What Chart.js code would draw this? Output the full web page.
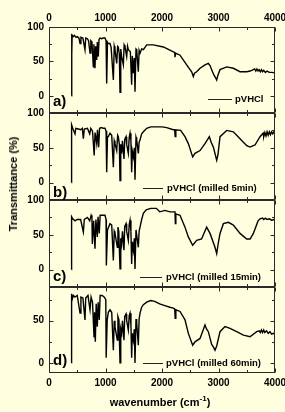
<!DOCTYPE html>
<html>
<head>
<meta charset="utf-8">
<script src="https://cdn.jsdelivr.net/npm/chart.js@4.4.1/dist/chart.umd.min.js"></script>
<style>
  html, body { margin: 0; padding: 0; background: #ffffe0; }
  #wrap { position: relative; width: 285px; height: 412px; overflow: hidden; background: #ffffe0;
          font-family: "Liberation Sans", Arial, sans-serif; font-weight: bold; color: #000; }
  #wrap canvas { position: absolute; left: 0; top: 0; }
  .lbl { position: absolute; font-size: 15px; line-height: 15px; }
  .leg { position: absolute; font-size: 9.5px; line-height: 10px; white-space: nowrap; }
  .legline { position: absolute; height: 0; border-top: 1px solid #222; }
  #xtitle { position: absolute; left: 0; width: 320px; top: 396px; text-align: center; font-size: 11px; }
  #xtitle sup { font-size: 8px; vertical-align: 5px; line-height: 0; }
  #ytitle { position: absolute; left: 13px; top: 184px; font-size: 11px; white-space: nowrap;
            transform: translate(-50%, -50%) rotate(-90deg); }
</style>
</head>
<body>
<div id="wrap">
  <canvas id="chartA" width="285" height="412"></canvas>
  <canvas id="chartB" width="285" height="412"></canvas>
  <canvas id="chartC" width="285" height="412"></canvas>
  <canvas id="chartD" width="285" height="412"></canvas>

  <div class="lbl" style="left:53px; top:93px;">a)</div>
  <div class="lbl" style="left:53px; top:184px;">b)</div>
  <div class="lbl" style="left:53px; top:268px;">c)</div>
  <div class="lbl" style="left:53px; top:352px;">d)</div>

  <div class="legline" style="left:208px; width:24px; top:99px;"></div>
  <div class="leg" style="left:235px; top:94px;">pVHCl</div>
  <div class="legline" style="left:143px; width:20px; top:188px;"></div>
  <div class="leg" style="left:167px; top:183px;">pVHCl (milled 5min)</div>
  <div class="legline" style="left:140px; width:22px; top:277px;"></div>
  <div class="leg" style="left:166px; top:272px;">pVHCl (milled 15min)</div>
  <div class="legline" style="left:143px; width:20px; top:363px;"></div>
  <div class="leg" style="left:166px; top:358px;">pVHCl (milled 60min)</div>

  <div id="xtitle">wavenumber (cm<sup>-1</sup>)</div>
  <div id="ytitle">Transmittance (%)</div>
</div>

<script>

// a) pVHCl
const waveA = [398, 400, 405, 410, 430, 450, 480, 500, 530, 550, 565, 600, 637, 650, 680, 700, 726, 740, 760, 785,
  795, 814, 825, 844, 855, 873, 885, 903, 930, 960, 991, 1010, 1021, 1035, 1050, 1080, 1100, 1139, 1155, 1168,
  1198, 1215, 1227, 1245, 1257, 1270, 1286, 1316, 1330, 1345, 1375, 1390, 1404, 1440, 1463, 1475, 1493, 1510, 1522, 1540,
  1552, 1581, 1595, 1611, 1640, 1670, 1729, 1847, 2024, 2201, 2225, 2230, 2240, 2319, 2437, 2480, 2525, 2555, 2575, 2614,
  2673, 2761, 2820, 2850, 2879, 2920, 2950, 2968, 2990, 3027, 3145, 3263, 3381, 3499, 3560, 3617, 3640, 3660, 3680, 3700,
  3720, 3740, 3760, 3780, 3800, 3830, 3860, 3900, 3950, 4000];
const transA = [0, 90, 60, 88, 86, 88, 85, 86, 84, 76, 85, 84, 67, 84, 83, 80, 62, 80, 78, 42,
  75, 40, 72, 52, 78, 57, 82, 84, 83, 84, 84, 80, 18, 78, 76, 76, 70, 23, 72, 67,
  47, 72, 71, 60, 5, 68, 57, 45, 74, 71, 57, 72, 67, 64, 16, 58, 33, 55, 6, 68,
  67, 35, 66, 62, 68, 67, 74, 74, 71, 64, 63, 56, 62, 59, 45, 40, 35, 28, 33, 35,
  40, 45, 47, 44, 38, 30, 26, 23, 30, 38, 42, 40, 35, 35, 36, 38, 39, 36, 39, 36,
  38, 35, 38, 35, 37, 34, 36, 34, 34, 33];

// b) pVHCl (milled 5min)
const waveB = [398, 400, 420, 460, 475, 520, 560, 590, 608, 625, 680, 720, 740, 770, 800, 815, 844, 858, 879, 895,
  930, 960, 991, 1010, 1021, 1035, 1050, 1080, 1110, 1139, 1155, 1168, 1198, 1215, 1227, 1245, 1257, 1270, 1286, 1300,
  1327, 1340, 1363, 1375, 1404, 1420, 1434, 1450, 1463, 1475, 1493, 1510, 1522, 1540, 1552, 1581, 1595, 1611, 1640, 1670,
  1729, 1800, 1847, 2000, 2083, 2201, 2225, 2233, 2245, 2330, 2407, 2466, 2543, 2584, 2673, 2761, 2838, 2870, 2909, 2968,
  2990, 3027, 3145, 3263, 3381, 3500, 3558, 3646, 3735, 3790, 3800, 3820, 3840, 3860, 3880, 3900, 3920, 3940, 3960, 3980,
  4000];
const transB = [0, 83, 78, 70, 78, 77, 76, 78, 63, 77, 78, 70, 78, 74, 39, 72, 56, 76, 51, 78,
  79, 78, 78, 74, 15, 66, 66, 71, 68, 22, 60, 56, 46, 68, 66, 55, 3, 55, 42, 60,
  34, 62, 66, 55, 42, 65, 71, 60, 15, 45, 37, 50, 4, 65, 61, 42, 58, 61, 70, 73,
  78, 80, 80, 80, 79, 76, 76, 66, 76, 75, 66, 56, 37, 42, 46, 56, 66, 58, 51, 32,
  40, 66, 75, 73, 63, 53, 51, 54, 66, 71, 66, 72, 67, 73, 68, 73, 69, 73, 70, 73,
  71];

// c) pVHCl (milled 15min)
const waveC = [398, 400, 420, 460, 500, 560, 608, 625, 680, 720, 745, 760, 767, 790, 814, 830, 855, 868, 890, 905,
  940, 991, 1010, 1015, 1035, 1050, 1080, 1110, 1139, 1155, 1168, 1210, 1220, 1235, 1257, 1270, 1286, 1300, 1327, 1340,
  1363, 1375, 1404, 1420, 1434, 1450, 1463, 1475, 1493, 1510, 1522, 1540, 1552, 1581, 1595, 1611, 1640, 1670, 1720, 1800,
  1900, 1960, 2050, 2140, 2230, 2236, 2245, 2319, 2407, 2466, 2543, 2614, 2700, 2790, 2850, 2938, 2968, 3000, 3027, 3086,
  3175, 3263, 3381, 3499, 3560, 3617, 3700, 3735, 3780, 3800, 3830, 3860, 3900, 3940, 3980, 4000];
const transC = [0, 76, 73, 70, 72, 72, 54, 72, 75, 70, 78, 74, 37, 70, 30, 72, 47, 76, 52, 78,
  78, 78, 72, 6, 57, 60, 66, 64, 13, 55, 52, 32, 61, 55, 1, 45, 37, 55, 28, 62,
  66, 55, 42, 65, 71, 55, 8, 40, 28, 45, 1, 57, 57, 32, 55, 61, 72, 81, 86, 88,
  88, 83, 85, 83, 83, 66, 80, 78, 61, 47, 35, 42, 44, 61, 52, 32, 23, 40, 52, 66,
  68, 64, 52, 44, 44, 52, 70, 73, 74, 72, 74, 72, 73, 71, 72, 71];

// d) pVHCl (milled 60min)
const waveD = [398, 400, 410, 430, 460, 500, 549, 565, 600, 637, 650, 690, 726, 745, 770, 797, 806, 820, 835, 855,
  870, 890, 905, 940, 980, 1005, 1012, 1030, 1050, 1080, 1110, 1139, 1155, 1168, 1209, 1220, 1238, 1257, 1270, 1286,
  1300, 1327, 1340, 1363, 1375, 1404, 1420, 1434, 1450, 1463, 1475, 1493, 1510, 1522, 1540, 1552, 1581, 1595, 1611, 1640,
  1670, 1729, 1800, 1870, 1960, 2050, 2140, 2201, 2225, 2233, 2245, 2319, 2407, 2466, 2543, 2584, 2673, 2761, 2790, 2820,
  2879, 2909, 2938, 2968, 3027, 3115, 3204, 3322, 3440, 3558, 3676, 3720, 3740, 3760, 3780, 3800, 3820, 3850, 3880, 3910,
  3940, 3970, 4000];
const transD = [0, 82, 75, 80, 78, 80, 59, 78, 77, 51, 77, 80, 63, 78, 72, 31, 60, 25, 70, 43,
  72, 51, 80, 80, 78, 75, 6, 51, 60, 63, 60, 15, 50, 43, 27, 55, 51, 0, 40, 35,
  50, 27, 55, 58, 50, 39, 56, 59, 45, 6, 35, 27, 40, 0, 52, 47, 21, 52, 59, 66,
  69, 72, 74, 73, 70, 68, 66, 65, 64, 53, 63, 61, 51, 35, 21, 25, 29, 45, 40, 37,
  22, 19, 15, 20, 37, 43, 41, 37, 33, 31, 37, 38, 36, 39, 36, 39, 36, 38, 35, 37,
  34, 35, 34];

// Ejes
const xTicks = [0, 1000, 2000, 3000, 4000];
const yTicks = [0, 50, 100];

Chart.defaults.font.family = '"Liberation Sans", Arial, sans-serif';
Chart.defaults.font.weight = 'bold';
Chart.defaults.font.size = 10;
Chart.defaults.color = '#000';

// Marco y marcas de graduación hacia adentro
const framePlugin = {
  id: 'frame',
  afterDraw(chart) {
    const { ctx, chartArea: a, scales: { x, y } } = chart;
    const l = Math.round(a.left) + 0.5, r = Math.round(a.right) - 0.5;
    const t = Math.round(a.top) + 0.5, b = Math.round(a.bottom) - 0.5;
    ctx.save();
    ctx.strokeStyle = '#2a2a2a';
    ctx.lineWidth = 1;
    ctx.strokeRect(l, t, r - l, b - t);
    ctx.beginPath();
    for (let v = 0; v <= 4000; v += 500) {
      const px = Math.round(x.getPixelForValue(v)) + 0.5;
      const len = v % 1000 === 0 ? 4 : 2.5;
      ctx.moveTo(px, t); ctx.lineTo(px, t + len);
      ctx.moveTo(px, b); ctx.lineTo(px, b - len);
    }
    for (let v = -25; v <= 100; v += 25) {
      if (v < y.min || v > y.max) continue;
      const py = Math.round(y.getPixelForValue(v)) + 0.5;
      const len = v % 50 === 0 ? 4 : 2.5;
      ctx.moveTo(l, py); ctx.lineTo(l + len, py);
      ctx.moveTo(r, py); ctx.lineTo(r - len, py);
    }
    ctx.stroke();
    ctx.restore();
  }
};

function makePanel(id, waves, values, opts) {
  const points = waves.map((w, i) => ({ x: w, y: values[i] }));
  return new Chart(document.getElementById(id), {
    type: 'line',
    data: {
      datasets: [{
        data: points,
        borderColor: '#000',
        borderWidth: 1.4,
        pointRadius: 0,
        tension: 0
      }]
    },
    options: {
      responsive: false,
      animation: false,
      events: [],
      layout: { padding: opts.padding },
      plugins: { legend: { display: false }, tooltip: { enabled: false } },
      scales: {
        x: {
          type: 'linear',
          position: opts.xPos || 'bottom',
          display: !!opts.xPos,
          min: 0,
          max: 4000,
          grid: { display: false, drawTicks: false },
          border: { display: false },
          afterBuildTicks: s => { s.ticks = xTicks.map(v => ({ value: v })); },
          ticks: { padding: opts.xPad || 4, maxRotation: 0, autoSkip: false, callback: v => String(v) },
          afterFit: s => {
            if (opts.xHeight) s.height = opts.xHeight;
            s.paddingLeft = 0; s.paddingRight = 0;
          }
        },
        y: {
          min: opts.yMin,
          max: opts.yMax,
          grid: { display: false, drawTicks: false },
          border: { display: false },
          afterBuildTicks: s => { s.ticks = yTicks.filter(v => v <= opts.yMax).map(v => ({ value: v })); },
          ticks: { padding: 5, autoSkip: false, callback: v => String(v) },
          afterFit: s => { s.width = 49; s.paddingTop = 0; s.paddingBottom = 0; }
        }
      }
    },
    plugins: [framePlugin]
  });
}

makePanel('chartA', waveA, transA, {
  yMin: -25, yMax: 100, xPos: 'top', xHeight: 27, xPad: 3,
  padding: { left: 0, right: 10, top: 0, bottom: 412 - 113 }
});
makePanel('chartB', waveB, transB, {
  yMin: -25, yMax: 100,
  padding: { left: 0, right: 10, top: 113, bottom: 412 - 200 }
});
makePanel('chartC', waveC, transC, {
  yMin: -25, yMax: 100,
  padding: { left: 0, right: 10, top: 200, bottom: 412 - 287 }
});
makePanel('chartD', waveD, transD, {
  yMin: -12, yMax: 90, xPos: 'bottom', xHeight: 39, xPad: 4,
  padding: { left: 0, right: 10, top: 287, bottom: 0 }
});
</script>
</body>
</html>
